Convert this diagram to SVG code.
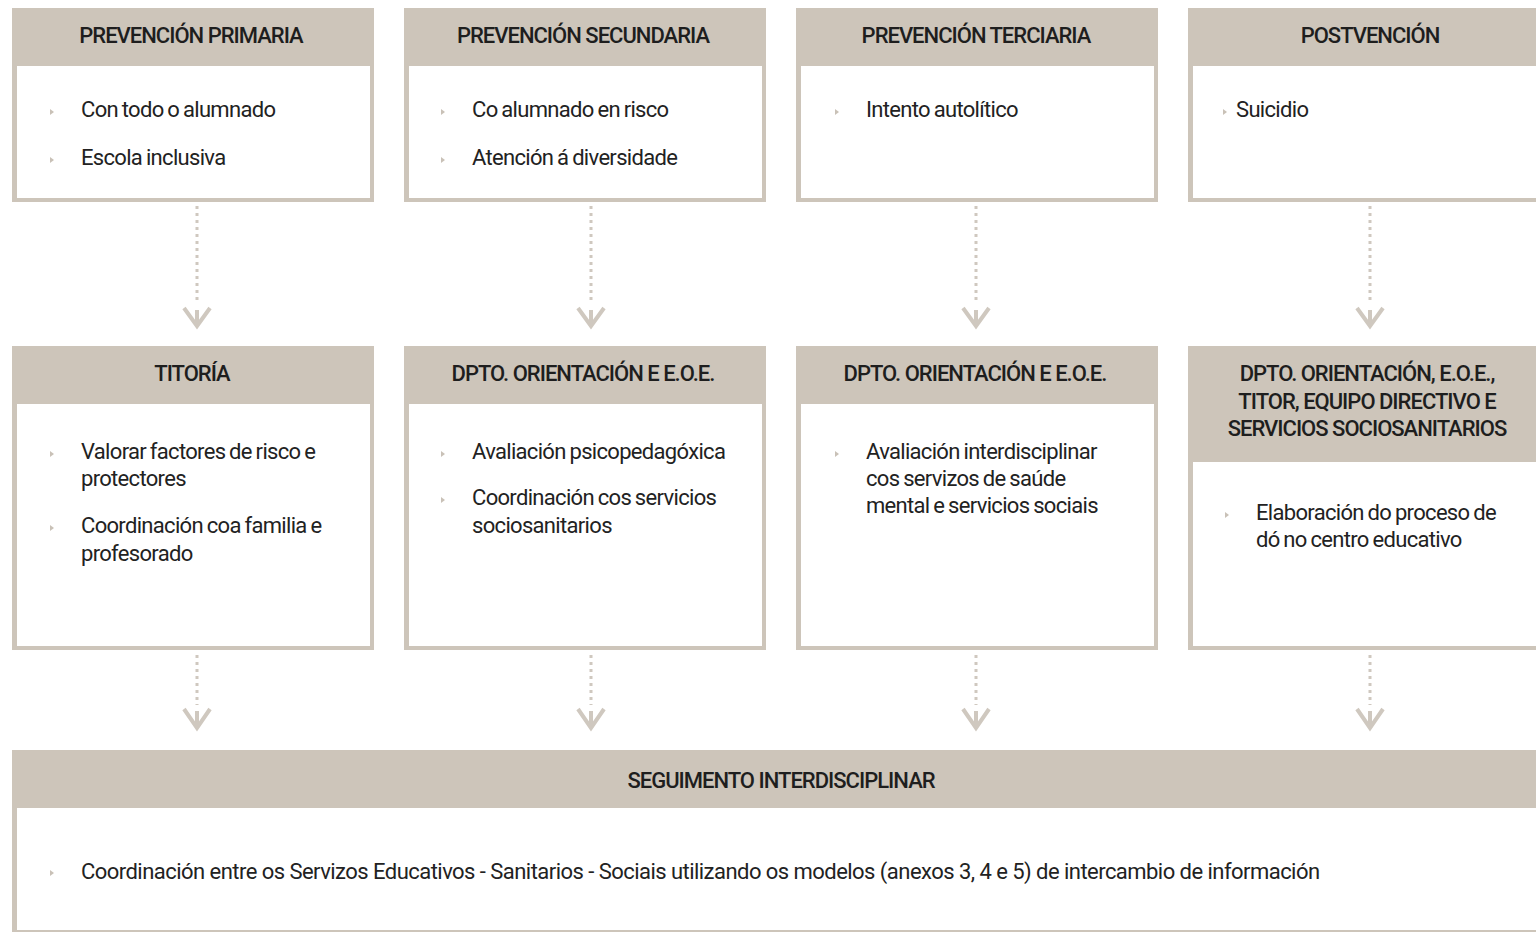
<svg xmlns="http://www.w3.org/2000/svg" width="1536" height="932" viewBox="0 0 1536 932">
<style>
.frame{fill:#cdc5ba}
.inner{fill:#ffffff}
.hd{font-family:Roboto,"Liberation Sans",sans-serif;font-weight:500;font-size:22px;letter-spacing:-1px;fill:#1e1e1e;text-anchor:middle}
.tx{font-family:Roboto,"Liberation Sans",sans-serif;font-size:22px;letter-spacing:-0.68px;word-spacing:-1px;fill:#222222}
.long{letter-spacing:-0.54px;word-spacing:0}
.bul{fill:#c9c1b7}
.dots{stroke:#cfc8bf;stroke-width:3;stroke-dasharray:3 4;fill:none}
.head{stroke:#cfc8bf;stroke-width:4;fill:none;stroke-linejoin:miter}
</style>
<defs>
<polygon id="b" class="bul" points="0,-3 4,0 0,3"/>
</defs>
<rect width="1536" height="932" fill="#ffffff"/>

<g id="connectors">
<g id="c1"><line class="dots" x1="197" y1="206" x2="197" y2="304"/><path class="head" d="M184,308 L197,326 L210,308 M197,310 L197,326"/></g>
<g id="c2"><line class="dots" x1="591" y1="206" x2="591" y2="304"/><path class="head" d="M578,308 L591,326 L604,308 M591,310 L591,326"/></g>
<g id="c3"><line class="dots" x1="976" y1="206" x2="976" y2="304"/><path class="head" d="M963,308 L976,326 L989,308 M976,310 L976,326"/></g>
<g id="c4"><line class="dots" x1="1370" y1="206" x2="1370" y2="304"/><path class="head" d="M1357,308 L1370,326 L1383,308 M1370,310 L1370,326"/></g>
<g id="c5"><line class="dots" x1="197" y1="655" x2="197" y2="705"/><path class="head" d="M184,709 L197,728 L210,709 M197,711 L197,728"/></g>
<g id="c6"><line class="dots" x1="591" y1="655" x2="591" y2="705"/><path class="head" d="M578,709 L591,728 L604,709 M591,711 L591,728"/></g>
<g id="c7"><line class="dots" x1="976" y1="655" x2="976" y2="705"/><path class="head" d="M963,709 L976,728 L989,709 M976,711 L976,728"/></g>
<g id="c8"><line class="dots" x1="1370" y1="655" x2="1370" y2="705"/><path class="head" d="M1357,709 L1370,728 L1383,709 M1370,711 L1370,728"/></g>
</g>

<g id="n1">
<rect class="frame" x="12" y="8" width="362" height="194"/>
<rect class="inner" x="17" y="66" width="353" height="132"/>
<text class="hd" x="191" y="43">PREVENCIÓN PRIMARIA</text>
<use href="#b" x="50" y="112"/><text class="tx" x="81" y="117">Con todo o alumnado</text>
<use href="#b" x="50" y="160"/><text class="tx" x="81" y="165">Escola inclusiva</text>
</g>
<g id="n2">
<rect class="frame" x="404" y="8" width="362" height="194"/>
<rect class="inner" x="409" y="66" width="353" height="132"/>
<text class="hd" x="583" y="43">PREVENCIÓN SECUNDARIA</text>
<use href="#b" x="441" y="112"/><text class="tx" x="472" y="117">Co alumnado en risco</text>
<use href="#b" x="441" y="160"/><text class="tx" x="472" y="165">Atención á diversidade</text>
</g>
<g id="n3">
<rect class="frame" x="796" y="8" width="362" height="194"/>
<rect class="inner" x="801" y="66" width="353" height="132"/>
<text class="hd" x="976" y="43">PREVENCIÓN TERCIARIA</text>
<use href="#b" x="835" y="112"/><text class="tx" x="866" y="117">Intento autolítico</text>
</g>
<g id="n4">
<rect class="frame" x="1188" y="8" width="362" height="194"/>
<rect class="inner" x="1193" y="66" width="353" height="132"/>
<text class="hd" x="1370" y="43">POSTVENCIÓN</text>
<use href="#b" x="1223" y="112"/><text class="tx" x="1236" y="117">Suicidio</text>
</g>

<g id="n5">
<rect class="frame" x="12" y="346" width="362" height="304"/>
<rect class="inner" x="17" y="404" width="353" height="242"/>
<text class="hd" x="192" y="381">TITORÍA</text>
<use href="#b" x="50" y="454"/><text class="tx" x="81" y="459">Valorar factores de risco e</text>
<text class="tx" x="81" y="486">protectores</text>
<use href="#b" x="50" y="528"/><text class="tx" x="81" y="533">Coordinación coa familia e</text>
<text class="tx" x="81" y="561">profesorado</text>
</g>
<g id="n6">
<rect class="frame" x="404" y="346" width="362" height="304"/>
<rect class="inner" x="409" y="404" width="353" height="242"/>
<text class="hd" x="583" y="381">DPTO. ORIENTACIÓN E E.O.E.</text>
<use href="#b" x="441" y="454"/><text class="tx" x="472" y="459">Avaliación psicopedagóxica</text>
<use href="#b" x="441" y="500"/><text class="tx" x="472" y="505">Coordinación cos servicios</text>
<text class="tx" x="472" y="533">sociosanitarios</text>
</g>
<g id="n7">
<rect class="frame" x="796" y="346" width="362" height="304"/>
<rect class="inner" x="801" y="404" width="353" height="242"/>
<text class="hd" x="975" y="381">DPTO. ORIENTACIÓN E E.O.E.</text>
<use href="#b" x="835" y="454"/><text class="tx" x="866" y="459">Avaliación interdisciplinar</text>
<text class="tx" x="866" y="486">cos servizos de saúde</text>
<text class="tx" x="866" y="513">mental e servicios sociais</text>
</g>
<g id="n8">
<rect class="frame" x="1188" y="346" width="362" height="304"/>
<rect class="inner" x="1193" y="462" width="353" height="184"/>
<text class="hd" x="1367" y="381">DPTO. ORIENTACIÓN, E.O.E.,</text>
<text class="hd" x="1367" y="409">TITOR, EQUIPO DIRECTIVO E</text>
<text class="hd" x="1367" y="436">SERVICIOS SOCIOSANITARIOS</text>
<use href="#b" x="1225" y="515"/><text class="tx" x="1256" y="520">Elaboración do proceso de</text>
<text class="tx" x="1256" y="547">dó no centro educativo</text>
</g>

<g id="n9">
<rect class="frame" x="12" y="750" width="1538" height="190"/>
<rect class="inner" x="17" y="808" width="1529" height="122"/>
<text class="hd" x="781" y="788">SEGUIMENTO INTERDISCIPLINAR</text>
<use href="#b" x="50" y="873"/><text class="tx long" x="81" y="879">Coordinación entre os Servizos Educativos -  Sanitarios - Sociais utilizando os modelos (anexos 3, 4 e 5) de intercambio de información</text>
</g>
</svg>
